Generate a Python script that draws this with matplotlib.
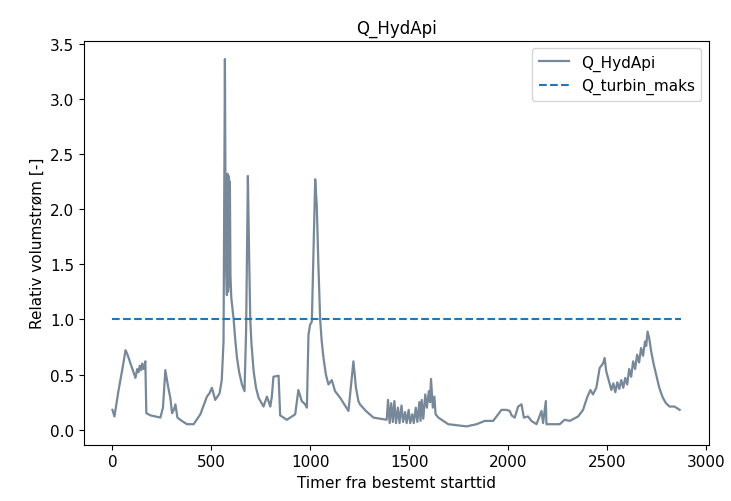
import matplotlib
matplotlib.use("Agg")
import matplotlib.pyplot as plt

# timer fra start og relativ volumstrøm (lest av figuren)
timer = [0, 10, 30, 50, 66, 74, 95, 116, 125, 131, 138, 145, 150, 158, 166, 171,
         192, 242, 255, 267, 280, 292, 301, 310, 318, 328, 350, 376, 410, 444, 477,
         490, 502, 510, 519, 530, 541, 552, 561, 568, 572, 578, 581, 584, 587, 590,
         593, 596, 600, 606, 612, 620, 629, 640, 654, 667, 675, 684, 690, 696, 702,
         713, 725, 738, 763, 780, 790, 797, 805, 813, 839, 847, 881, 923, 939, 956,
         973, 982, 990, 998, 1007, 1015, 1024, 1032, 1040, 1049, 1057, 1066, 1078,
         1091, 1108, 1124, 1150, 1192, 1217, 1230, 1242, 1250, 1280, 1318, 1351, 1385,
         1392, 1400, 1408, 1416, 1424, 1432, 1442, 1450, 1460, 1468, 1478, 1486,
         1496, 1504, 1514, 1522, 1532, 1540, 1550, 1556, 1562, 1570, 1580, 1588,
         1598, 1604, 1609, 1618, 1626, 1632, 1646, 1663, 1696, 1789, 1839, 1881,
         1923, 1965, 1990, 2007, 2016, 2032, 2049, 2066, 2078, 2099, 2116, 2142,
         2167, 2175, 2189, 2192, 2259, 2284, 2310, 2352, 2377, 2397, 2414, 2427,
         2444, 2461, 2478, 2486, 2494, 2511, 2520, 2530, 2540, 2550, 2560, 2570,
         2580, 2590, 2600, 2610, 2620, 2630, 2640, 2650, 2660, 2670, 2680, 2690,
         2696, 2703, 2712, 2721, 2733, 2746, 2762, 2780, 2796, 2814, 2839, 2865]
q_hydapi = [0.18, 0.12, 0.35, 0.55, 0.72, 0.69, 0.58, 0.47, 0.55, 0.52, 0.58, 0.54,
            0.60, 0.55, 0.62, 0.15, 0.13, 0.11, 0.20, 0.54, 0.40, 0.29, 0.15, 0.18,
            0.23, 0.11, 0.08, 0.05, 0.05, 0.14, 0.30, 0.33, 0.38, 0.33, 0.27, 0.30,
            0.33, 0.45, 0.80, 3.36, 1.60, 1.22, 2.32, 1.25, 2.30, 1.30, 2.25, 1.40,
            1.20, 1.10, 1.00, 0.82, 0.65, 0.52, 0.41, 0.35, 0.90, 2.30, 1.60, 1.00,
            0.78, 0.53, 0.38, 0.29, 0.21, 0.30, 0.25, 0.21, 0.30, 0.48, 0.49, 0.13,
            0.09, 0.14, 0.36, 0.26, 0.23, 0.20, 0.86, 0.95, 0.98, 1.60, 2.27, 2.03,
            1.50, 1.00, 0.80, 0.65, 0.50, 0.41, 0.45, 0.35, 0.29, 0.17, 0.62, 0.38,
            0.26, 0.23, 0.17, 0.11, 0.10, 0.09,
            0.27, 0.06, 0.24, 0.07, 0.26, 0.06, 0.20, 0.06, 0.22, 0.07, 0.16, 0.06,
            0.18, 0.06, 0.14, 0.06, 0.20, 0.07, 0.25, 0.08, 0.27, 0.10, 0.32, 0.20,
            0.35, 0.25, 0.46, 0.20, 0.30, 0.14, 0.11, 0.09, 0.05, 0.03, 0.05, 0.08,
            0.08, 0.18, 0.18, 0.17, 0.13, 0.11, 0.21, 0.23, 0.11, 0.12, 0.08, 0.05,
            0.17, 0.06, 0.26, 0.05, 0.05, 0.09, 0.08, 0.12, 0.18, 0.29, 0.36, 0.32,
            0.38, 0.56, 0.60, 0.65, 0.53, 0.42, 0.36, 0.42, 0.34, 0.43, 0.37, 0.45,
            0.38, 0.47, 0.41, 0.55, 0.48, 0.62, 0.55, 0.68, 0.61, 0.74, 0.67, 0.80,
            0.76, 0.89, 0.82, 0.71, 0.60, 0.50, 0.38, 0.29, 0.24, 0.21, 0.21, 0.18]

q_turbin_maks = 1.0
t_slutt = 2870

fig = plt.figure(figsize=(7.31, 5.02), dpi=100)
ax = fig.add_axes([0.115, 0.112, 0.855, 0.805])
ax.plot(timer, q_hydapi, color="lightslategray", lw=1.6, label="Q_HydApi")
ax.plot([0, t_slutt], [q_turbin_maks, q_turbin_maks], "--", color="#1f77b4",
        lw=1.5, label="Q_turbin_maks")
ax.set_title("Q_HydApi", fontsize=12)
ax.set_xlabel("Timer fra bestemt starttid", fontsize=11)
ax.set_ylabel("Relativ volumstrøm [-]", fontsize=11)
ax.tick_params(labelsize=11)
ax.legend(loc="upper right", fontsize=11)
fig.savefig("out.png", dpi=100)
